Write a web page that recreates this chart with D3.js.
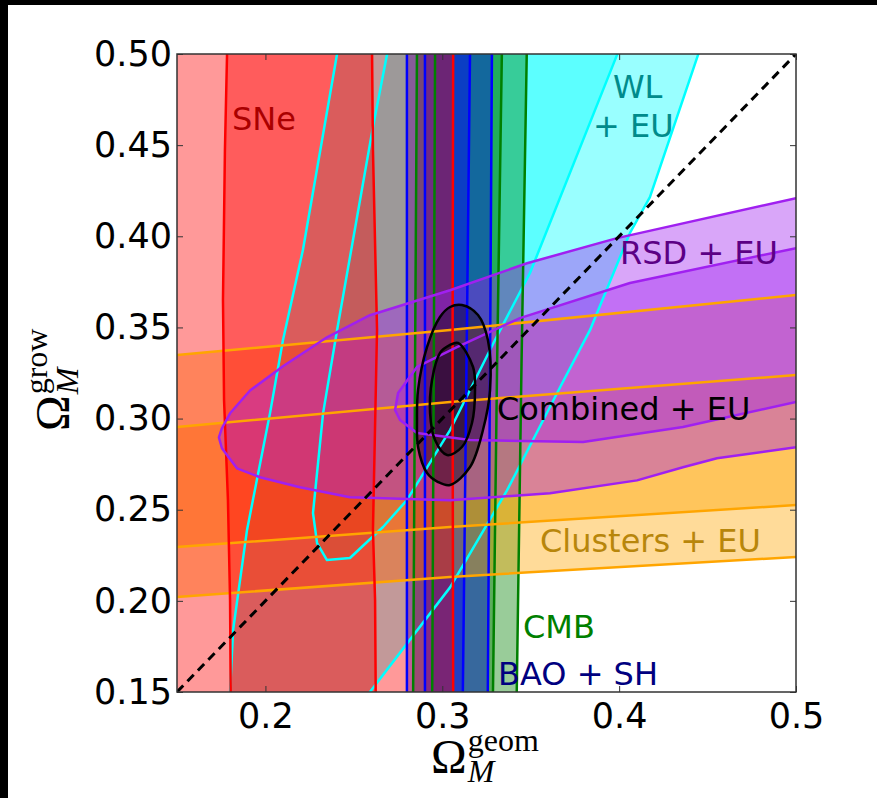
<!DOCTYPE html>
<html>
<head>
<meta charset="utf-8">
<script src="https://cdn.jsdelivr.net/npm/d3@7/dist/d3.min.js"></script>
<style>
  body { margin: 0; background: #fff; }
  svg { display: block; font-family: "DejaVu Sans", sans-serif; }
</style>
</head>
<body>
<svg id="chart" width="877" height="798"></svg>
<script>
// contour outlines as [Omega_geom, Omega_grow]
const wlOuter = [[0.244,0.52],[0.2405,0.5],[0.2212,0.3925],[0.2099,0.343],[0.2026,0.303],[0.1896,0.2389],[0.1817,0.1838],[0.18,0.15],[0.1795,0.13],
  [0.2433,0.13],[0.2591,0.15],[0.3044,0.2074],[0.3366,0.2606],[0.3666,0.3172],[0.3835,0.3485],[0.4061,0.4018],[0.4174,0.4215],[0.4446,0.4995],[0.4518,0.52]];
const wlInner = [[0.2728,0.52],[0.2687,0.4995],[0.2608,0.4599],[0.2405,0.3485],[0.2326,0.303],[0.2269,0.2482],[0.2292,0.2317],[0.2348,0.2224],
  [0.2478,0.2235],[0.2665,0.2405],[0.28,0.2553],[0.3044,0.2937],[0.3298,0.3431],[0.3496,0.3799],[0.3988,0.4995],[0.4073,0.52]];
const cmbOuter = [[0.2858,0.52],[0.2846,0.33],[0.2834,0.13],[0.3418,0.13],[0.3448,0.33],[0.3481,0.52]];
const cmbInner = [[0.296,0.52],[0.2952,0.33],[0.2942,0.13],[0.3284,0.13],[0.331,0.33],[0.3340,0.52]];
const baoOuter = [[0.28,0.52],[0.28,0.33],[0.28,0.13],[0.3256,0.13],[0.327,0.33],[0.3282,0.52]];
const baoInner = [[0.2902,0.52],[0.2902,0.33],[0.2902,0.13],[0.3114,0.13],[0.3137,0.33],[0.3159,0.52]];
const sneOuter = [[0.10,0.52],[0.3062,0.52],[0.3058,0.33],[0.3062,0.13],[0.10,0.13]];
const sneInner = [[0.1783,0.52],[0.1783,0.5],[0.1771,0.4473],[0.176,0.365],[0.1766,0.3102],[0.1788,0.2553],[0.18,0.2005],[0.1805,0.13],
  [0.2625,0.13],[0.262,0.2005],[0.2608,0.2389],[0.2631,0.3486],[0.2608,0.4473],[0.2603,0.5],[0.2603,0.52]];
const clusterOuter = [[0.14,0.334],[0.15,0.3349],[0.3044,0.3486],[0.5,0.3678],[0.51,0.3688],
  [0.51,0.2247],[0.5,0.2241],[0.3044,0.2131],[0.15,0.2021],[0.14,0.2014]];
const clusterInner = [[0.14,0.2945],[0.15,0.2954],[0.3044,0.3091],[0.5,0.3239],[0.51,0.3247],
  [0.51,0.2532],[0.5,0.2526],[0.3044,0.2405],[0.15,0.2295],[0.14,0.2288]];
const rsdOuter = [[0.1737,0.2897],[0.1754,0.2947],[0.18,0.3029],[0.1913,0.3154],[0.2099,0.3287],[0.2348,0.3446],[0.2591,0.3567],
  [0.3044,0.3704],[0.3479,0.3852],[0.3988,0.399],[0.5,0.4209],[0.52,0.4253],
  [0.52,0.2881],[0.5,0.2843],[0.4553,0.2782],[0.4361,0.2733],[0.4101,0.2661],[0.3609,0.259],[0.3044,0.2552],[0.2478,0.2568],
  [0.2195,0.2623],[0.1969,0.2678],[0.1839,0.2727],[0.1754,0.2837]];
const rsdInner = [[0.52,0.3979],[0.5,0.3935],[0.4061,0.3744],[0.3439,0.3551],[0.3083,0.3392],[0.2857,0.3283],[0.275,0.314],
  [0.2733,0.3047],[0.2761,0.2992],[0.2857,0.2921],[0.3157,0.2882],[0.3796,0.2871],[0.4361,0.2954],[0.5,0.3091],[0.52,0.3129]];
const combinedOuter = [[0.3111,0.3623],[0.3202,0.3568],[0.3258,0.3431],[0.327,0.3157],[0.323,0.2937],[0.3157,0.2734],[0.3044,0.2636],
  [0.2976,0.2652],[0.2914,0.2701],[0.2863,0.2844],[0.2857,0.2992],[0.2863,0.3157],[0.2914,0.3393],[0.2987,0.3557],[0.3044,0.3612]];
const combinedInner = [[0.3089,0.3415],[0.3174,0.3283],[0.3185,0.3157],[0.3168,0.2976],[0.3111,0.2844],[0.3027,0.28],
  [0.2959,0.2882],[0.2931,0.303],[0.2942,0.3212],[0.2987,0.336],[0.3044,0.3404]];

const xTicks = [0.2, 0.3, 0.4, 0.5];
const yTicks = [0.15, 0.2, 0.25, 0.3, 0.35, 0.4, 0.45, 0.5];

const labels = [
  { text: 'SNe', at: [0.1811, 0.4583], color: '#aa0000' },
  { text: 'WL', at: [0.3965, 0.4759], color: '#008b8b' },
  { text: '+ EU', at: [0.3852, 0.4545], color: '#008b8b' },
  { text: 'RSD + EU', at: [0.4005, 0.3848], color: '#5c0085' },
  { text: 'Combined + EU', at: [0.3309, 0.2992], color: '#000000' },
  { text: 'Clusters + EU', at: [0.3552, 0.2268], color: '#b8860b' },
  { text: 'CMB', at: [0.3456, 0.1796], color: '#008000' },
  { text: 'BAO + SH', at: [0.3315, 0.1538], color: '#000080' }
];

// drawing order matters for the colour mixing
const layers = [
  { color: '#00ffff', shapes: [wlOuter, wlInner] },
  { color: '#008000', shapes: [cmbOuter, cmbInner] },
  { color: '#0000ff', shapes: [baoOuter, baoInner] },
  { color: '#ffa500', shapes: [clusterOuter, clusterInner] },
  { color: '#ff0000', shapes: [sneOuter, sneInner] },
  { color: '#a020f0', shapes: [rsdOuter, rsdInner] },
  { color: '#000000', shapes: [combinedOuter, combinedInner], smooth: true }
];

const box = { left: 177, right: 796, top: 54, bottom: 692 };
const svg = d3.select('#chart');

const x = d3.scaleLinear().domain([0.15, 0.5]).range([box.left, box.right]);
const y = d3.scaleLinear().domain([0.15, 0.5]).range([box.bottom, box.top]);

svg.append('clipPath').attr('id', 'plot-clip')
  .append('rect')
  .attr('x', box.left).attr('y', box.top)
  .attr('width', box.right - box.left).attr('height', box.bottom - box.top);

const plot = svg.append('g').attr('clip-path', 'url(#plot-clip)');

const lineFor = smooth => d3.line()
  .x(d => x(d[0]))
  .y(d => y(d[1]))
  .curve(smooth ? d3.curveCatmullRomClosed : d3.curveLinearClosed);

// filled regions, each level stacked with the same alpha
layers.forEach(l => {
  l.shapes.forEach(s => {
    plot.append('path')
      .attr('d', lineFor(l.smooth)(s))
      .attr('fill', l.color)
      .attr('fill-opacity', 0.4)
      .attr('stroke', 'none');
  });
});

// contour lines on top
layers.forEach(l => {
  l.shapes.forEach(s => {
    plot.append('path')
      .attr('d', lineFor(l.smooth)(s))
      .attr('fill', 'none')
      .attr('stroke', l.color)
      .attr('stroke-width', 2.5)
      .attr('stroke-linejoin', 'round');
  });
});

// one-to-one line
plot.append('line')
  .attr('x1', x(0.15)).attr('y1', y(0.15))
  .attr('x2', x(0.5)).attr('y2', y(0.5))
  .attr('stroke', '#000')
  .attr('stroke-width', 3)
  .attr('stroke-dasharray', '9,6');

// labels
svg.append('g').selectAll('text')
  .data(labels)
  .enter()
  .append('text')
  .attr('x', d => x(d.at[0]))
  .attr('y', d => y(d.at[1]))
  .attr('fill', d => d.color)
  .attr('font-size', 32)
  .text(d => d.text);

// axes, ticks point inward
const styleAxis = g => {
  g.select('.domain').remove();
  g.selectAll('.tick line').attr('stroke', '#333').attr('stroke-width', 1);
  g.selectAll('.tick text').attr('font-size', 35).attr('fill', '#000')
    .attr('font-family', '"DejaVu Sans", sans-serif');
};

svg.append('g').attr('transform', `translate(0,${box.bottom})`)
  .call(d3.axisBottom(x).tickValues(xTicks).tickSize(-6).tickPadding(11).tickFormat(d3.format('.1f')))
  .call(styleAxis);
svg.append('g').attr('transform', `translate(0,${box.top})`)
  .call(d3.axisTop(x).tickValues(xTicks).tickSize(-6).tickFormat(''))
  .call(styleAxis);
svg.append('g').attr('transform', `translate(${box.left},0)`)
  .call(d3.axisLeft(y).tickValues(yTicks).tickSize(-6).tickPadding(5).tickFormat(d3.format('.2f')))
  .call(styleAxis);
svg.append('g').attr('transform', `translate(${box.right},0)`)
  .call(d3.axisRight(y).tickValues(yTicks).tickSize(-6).tickFormat(''))
  .call(styleAxis);

svg.append('rect')
  .attr('x', box.left).attr('y', box.top)
  .attr('width', box.right - box.left).attr('height', box.bottom - box.top)
  .attr('fill', 'none')
  .attr('stroke', '#333')
  .attr('stroke-width', 1.5);

// axis titles: Omega with superscript and subscript, kept in one text element
function omegaLabel(g, sup) {
  const t = g.append('text')
    .attr('font-family', '"Liberation Serif", serif')
    .attr('font-size', 48);
  const om = t.append('tspan').text('\u03A9');
  const w = om.node().getComputedTextLength() + 1;
  t.append('tspan')
    .attr('x', w).attr('dy', -22)
    .attr('font-size', 32)
    .text(sup);
  t.append('tspan')
    .attr('x', w).attr('dy', 31)
    .attr('font-size', 32)
    .attr('font-style', 'italic')
    .text('M');
}

omegaLabel(svg.append('g').attr('transform', 'translate(431,773)'), 'geom');
omegaLabel(svg.append('g').attr('transform', 'translate(69,431) rotate(-90)'), 'grow');

// black frame strips of the original screenshot
svg.append('rect').attr('x', 0).attr('y', 0).attr('width', 877).attr('height', 5).attr('fill', '#000');
svg.append('rect').attr('x', 0).attr('y', 0).attr('width', 8).attr('height', 798).attr('fill', '#000');
</script>
</body>
</html>
